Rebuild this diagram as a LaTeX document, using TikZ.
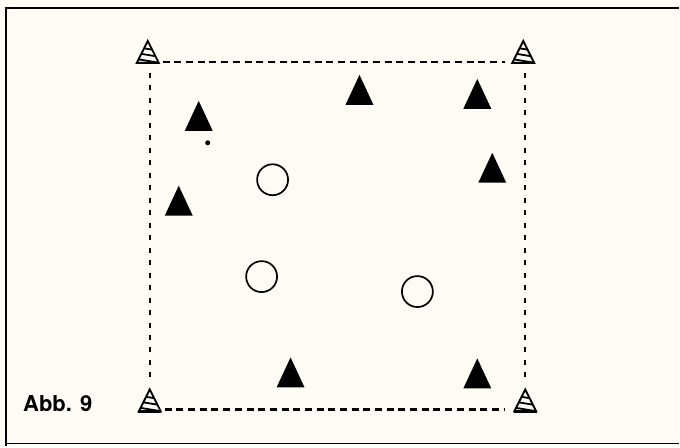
\documentclass[tikz,border=0pt]{standalone}
\usepackage{fontspec}
\setsansfont{TeX Gyre Heros}
\definecolor{paper}{HTML}{FDFBF3}

\begin{document}
\begin{tikzpicture}[x=1pt, y=-1pt, line join=miter,
    hdash/.style={line width=2.2pt, dash pattern=on 7pt off 4.7pt},
    vdash/.style={line width=2.2pt, dash pattern=on 5pt off 7.5pt},
    cone/.pic={
        \begin{scope}
            \clip (-11,0) -- (0,-22) -- (11,0) -- cycle;
            \draw[line width=1.8pt] (-12,-16) -- (12,-12);
            \draw[line width=1.8pt] (-12,-10) -- (12,-6);
            \draw[line width=1.8pt] (-12,-4) -- (12,0);
        \end{scope}
        \draw[line width=1.9pt] (-11,0) -- (0,-22) -- (11,0) -- cycle;
        \draw[line width=2.8pt] (-11.5,0) -- (11.5,0);
    },
    player/.pic={\fill (-14,15) -- (0,-15) -- (14,15) -- cycle;}]
    \fill[paper] (0,0) rectangle (680,447);
    \draw[line width=2pt] (680,8) -- (6,8) -- (6,447);
    \draw[line width=1pt] (6,444) -- (680,444);
    \pic at (148,63) {cone};
    \pic at (524,63) {cone};
    \pic at (150,412) {cone};
    \pic at (526,412) {cone};
    \draw[hdash] (163,62) -- (506,62);
    \draw[hdash] (165,410) -- (506,410);
    \draw[vdash] (150,73) -- (150,382);
    \draw[vdash] (526,73) -- (526,382);
    \pic at (199,116) {player};
    \pic at (360,90) {player};
    \pic at (478,94) {player};
    \pic at (493,168) {player};
    \pic at (179,201) {player};
    \pic at (291,373) {player};
    \pic at (478,374) {player};
    \fill (208,143) circle (2.5);
    \draw[line width=1.7pt] (273,180) circle (15.5);
    \draw[line width=1.7pt] (262,277) circle (15.5);
    \draw[line width=1.7pt] (418,292) circle (15.5);
    \node[font=\sffamily\bfseries\fontsize{22}{26}\selectfont, anchor=west, inner sep=0pt] (abb) at (23,404) {Abb. 9};
\end{tikzpicture}
\end{document}
